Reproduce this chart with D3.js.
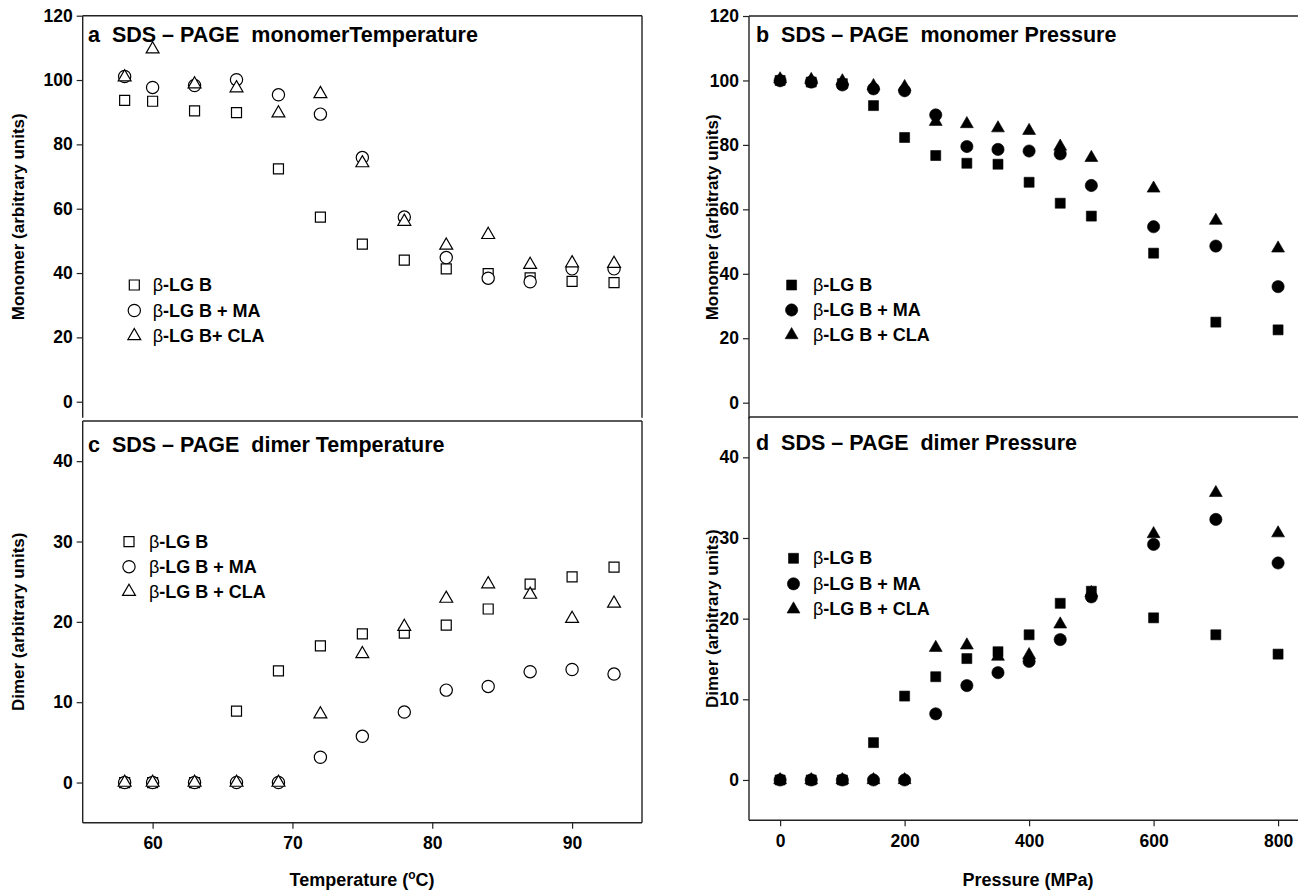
<!DOCTYPE html>
<html><head><meta charset="utf-8">
<script src="https://cdn.jsdelivr.net/npm/d3@7"></script>
<style>
body{margin:0;background:#fff;}
svg{display:block;}
text{font-family:"Liberation Sans",Arial,Helvetica,sans-serif;font-weight:bold;fill:#000;}
</style></head>
<body>
<svg id="chart" width="1298" height="891"></svg>
<script>
// ---------- data ----------
const tempX = [58,60,63,66,69,72,75,78,81,84,87,90,93];
const monoT_B   = [93.7,93.4,90.4,89.9,72.4,57.4,49.0,44.0,41.3,39.8,38.5,37.4,37.0];
const monoT_MA  = [101.1,97.7,98.3,100.1,95.4,89.4,75.9,57.4,44.8,38.4,37.3,41.3,41.3];
const monoT_CLA = [100.9,109.6,98.7,97.5,89.7,95.7,74.2,56.0,48.6,51.9,42.6,43.1,42.9];
const dimT_B    = [0,0,0,8.9,13.9,17.0,18.5,18.6,19.6,21.6,24.7,25.6,26.8];
const dimT_MA   = [0,0,0,0,0,3.15,5.75,8.77,11.5,11.96,13.8,14.07,13.5];
const dimT_CLA  = [0,0,0,0,0,8.5,16.0,19.4,22.9,24.7,23.4,20.4,22.3];

const presX = [0,50,100,150,200,250,300,350,400,450,500,600,700,800];
const monoP_B   = [100,99.5,99,92.2,82.3,76.7,74.3,74.0,68.4,61.9,57.9,46.4,25.0,22.6];
const monoP_MA  = [99.9,99.5,98.6,97.4,96.8,89.3,79.5,78.6,78.1,77.2,67.4,54.6,48.6,36.0];
const monoP_CLA = [100.4,100.2,99.8,98.3,98.0,87.2,86.5,85.2,84.4,79.5,76.0,66.5,56.5,47.9];
const dimP_B    = [0,0,0,4.63,10.4,12.8,15.05,15.9,18.0,21.9,23.4,20.1,18.0,15.6];
const dimP_MA   = [0,0,0,0,0,8.2,11.7,13.3,14.7,17.4,22.7,29.2,32.3,26.9];
const dimP_CLA  = [0,0,0,0,0,16.4,16.7,15.3,15.5,19.3,23.2,30.5,35.6,30.6];

const tempTicks = [60,70,80,90];
const presTicks = [0,200,400,600,800];
const monoTicks = [0,20,40,60,80,100,120];
const dimTicks  = [0,10,20,30,40];

const seriesNames = ["B","MA","CLA"];
const legendA = ["-LG B","-LG B + MA","-LG B+ CLA"];
const legendOther = ["-LG B","-LG B + MA","-LG B + CLA"];

// ---------- drawing ----------
const svg = d3.select("#chart");
const LINE = "#222";

const shapes = {B:d3.symbolSquare, MA:d3.symbolCircle, CLA:d3.symbolTriangle};
const sizes = {B:100, MA:118, CLA:72};

function panel(cfg){
  const g = svg.append("g");
  const x = d3.scaleLinear().domain(cfg.xd).range(cfg.xr);
  const y = d3.scaleLinear().domain(cfg.yd).range(cfg.yr);
  const [x0,x1] = cfg.xr, [yb,yt] = cfg.yr;
  // frame lines
  g.append("line").attr("x1",x0).attr("x2",x1).attr("y1",yt).attr("y2",yt).attr("stroke",LINE).attr("stroke-width",1.4);
  g.append("line").attr("x1",x1).attr("x2",x1).attr("y1",yt).attr("y2",yb).attr("stroke",LINE).attr("stroke-width",1.4);
  // y axis
  const ya = g.append("g").attr("transform",`translate(${x0},0)`)
    .call(d3.axisLeft(y).tickValues(cfg.yt).tickSize(6).tickPadding(4).tickFormat(d3.format("d")));
  ya.select(".domain").attr("stroke",LINE).attr("stroke-width",1.4).attr("d",`M0,${yb}V${yt}`);
  ya.selectAll(".tick line").attr("stroke",LINE).attr("stroke-width",1.2);
  ya.selectAll("text").style("font-size","17.5px").attr("font-family",null);
  if(cfg.bottom){
    const xa = g.append("g").attr("transform",`translate(0,${yb})`)
      .call(d3.axisBottom(x).tickValues(cfg.xt).tickSize(6).tickPadding(8).tickFormat(d3.format("d")));
    xa.select(".domain").attr("stroke",LINE).attr("stroke-width",1.4).attr("d",`M${x0},0H${x1}`);
    xa.selectAll(".tick line").attr("stroke",LINE).attr("stroke-width",1.2);
    xa.selectAll("text").style("font-size","17.5px").attr("font-family",null);
  }
  // title
  g.append("text").attr("x",cfg.titleX).attr("y",cfg.titleY).style("font-size","21.5px").text(cfg.title).attr("xml:space","preserve");
  // points
  const ser = [cfg.B, cfg.MA, cfg.CLA];
  seriesNames.forEach((s,i)=>{
    g.append("g").selectAll("path").data(cfg.xs.map((v,j)=>[v,ser[i][j]])).join("path")
      .attr("transform",d=>`translate(${x(d[0])},${y(d[1])})`)
      .attr("d",d3.symbol().type(shapes[s]).size(sizes[s]))
      .attr("fill",cfg.filled?"#000":"#fff")
      .attr("stroke","#000").attr("stroke-width",cfg.filled?0.6:1.2);
  });
  // legend
  cfg.legend.forEach((t,i)=>{
    const ly = cfg.legY + i*cfg.legDy;
    g.append("path").attr("transform",`translate(${cfg.legMx},${ly})`)
      .attr("d",d3.symbol().type(shapes[seriesNames[i]]).size(sizes[seriesNames[i]]))
      .attr("fill",cfg.filled?"#000":"#fff").attr("stroke","#000").attr("stroke-width",cfg.filled?0.6:1.2);
    const tx = g.append("text").attr("x",cfg.legTx).attr("y",ly+6).style("font-size","18px");
    tx.append("tspan").style("font-weight","normal").text("β");
    tx.append("tspan").text(t);
  });
  // y label
  g.append("text").attr("transform",`translate(${cfg.ylabX},${(yb+yt)/2}) rotate(-90)`)
    .attr("text-anchor","middle").style("font-size","17px").text(cfg.ylab);
  return {x,y};
}

panel({xd:[55,95],xr:[82.7,642],yd:[-5,120],yr:[417.8,15.7],xs:tempX,yt:monoTicks,xt:tempTicks,bottom:false,
  B:monoT_B,MA:monoT_MA,CLA:monoT_CLA,filled:false,title:"a  SDS – PAGE  monomerTemperature",titleX:88,titleY:41.5,
  legend:legendA,legMx:134.3,legTx:152.7,legY:285,legDy:25.5,ylab:"Monomer (arbitrary units)",ylabX:24});
panel({xd:[55,95],xr:[82.7,642],yd:[-5,45],yr:[822.7,421],xs:tempX,yt:dimTicks,xt:tempTicks,bottom:true,
  B:dimT_B,MA:dimT_MA,CLA:dimT_CLA,filled:false,title:"c  SDS – PAGE  dimer Temperature",titleX:88,titleY:451.5,
  legend:legendOther,legMx:129,legTx:149,legY:541.7,legDy:25,ylab:"Dimer (arbitrary units)",ylabX:24});
panel({xd:[-50,850],xr:[749,1309.2],yd:[-5,120],yr:[418.8,16],xs:presX,yt:monoTicks,xt:presTicks,bottom:false,
  B:monoP_B,MA:monoP_MA,CLA:monoP_CLA,filled:true,title:"b  SDS – PAGE  monomer Pressure",titleX:756,titleY:41.5,
  legend:legendOther,legMx:791.6,legTx:813,legY:285,legDy:25,ylab:"Monomer (arbitraty units)",ylabX:718});
panel({xd:[-50,850],xr:[749,1309.2],yd:[-5,45],yr:[820.3,417],xs:presX,yt:dimTicks,xt:presTicks,bottom:true,
  B:dimP_B,MA:dimP_MA,CLA:dimP_CLA,filled:true,title:"d  SDS – PAGE  dimer Pressure",titleX:756,titleY:449.5,
  legend:legendOther,legMx:793.5,legTx:813,legY:558.3,legDy:25.5,ylab:"Dimer (arbitrary units)",ylabX:718});

// x axis titles
const t1 = svg.append("text").attr("x",362).attr("y",886).attr("text-anchor","middle").style("font-size","18px");
t1.append("tspan").text("Temperature (");
t1.append("tspan").attr("dy",-7).style("font-size","12px").text("o");
t1.append("tspan").attr("dy",7).text("C)");
svg.append("text").attr("x",1028).attr("y",886).attr("text-anchor","middle").style("font-size","18px").text("Pressure (MPa)");
</script>
</body></html>
